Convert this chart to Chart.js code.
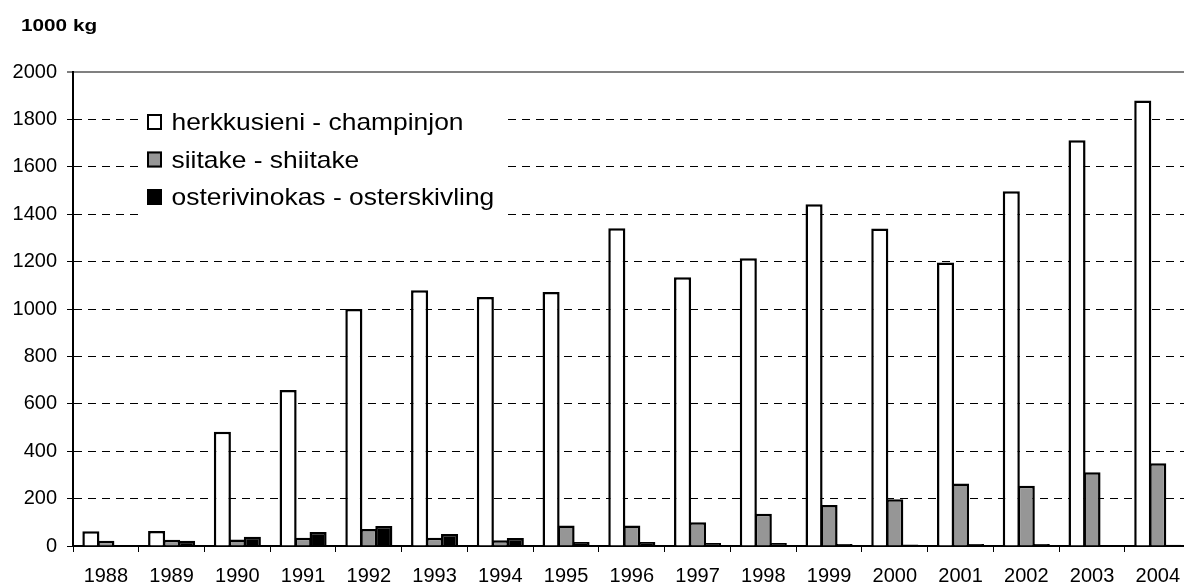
<!DOCTYPE html>
<html>
<head>
<meta charset="utf-8">
<script src="https://cdn.jsdelivr.net/npm/chart.js@4/dist/chart.umd.min.js"></script>
<style>
  html, body { margin: 0; padding: 0; background: #fff; overflow: hidden; }
  #wrap { position: relative; width: 1192px; height: 585px; }
</style>
</head>
<body>
<div id="wrap"><canvas id="c"></canvas></div>
<script>
const years = ['1988','1989','1990','1991','1992','1993','1994','1995','1996','1997','1998','1999','2000','2001','2002','2003','2004'];
const champinjon = [62, 63, 482, 658, 1000, 1079, 1051, 1072, 1341, 1134, 1214, 1442, 1340, 1196, 1497, 1712, 1880];
const shiitake = [22, 26, 27, 35, 72, 35, 24, 87, 87, 100, 136, 173, 197, 264, 254, 311, 349];
const osterskivling = [4, 22, 39, 59, 84, 51, 34, 17, 17, 13, 13, 8, 6, 8, 8, 2, 5];
const seriesNames = ['herkkusieni - champinjon', 'siitake - shiitake', 'osterivinokas - osterskivling'];
const unitLabel = '1000 kg';
const yMin = 0, yMax = 2000, yStep = 200;

const FONT = '"Liberation Sans", Arial, sans-serif';

const overlayPlugin = {
  id: 'overlay',
  afterDraw(chart) {
    const ctx = chart.ctx;
    // unit title
    ctx.save();
    ctx.fillStyle = '#000';
    ctx.font = 'bold 17px ' + FONT;
    ctx.textBaseline = 'alphabetic';
    ctx.translate(21, 31);
    ctx.scale(1.22, 1);
    ctx.fillText(unitLabel, 0, 0);
    ctx.restore();

    // legend
    ctx.save();
    ctx.fillStyle = '#fff';
    ctx.fillRect(138, 104, 367, 118);
    const centers = [122, 159.5, 197];
    chart.data.datasets.forEach((ds, i) => {
      const cy = centers[i];
      ctx.fillStyle = ds.backgroundColor;
      ctx.fillRect(147, cy - 8, 15, 16);
      ctx.strokeStyle = '#000';
      ctx.lineWidth = 2;
      ctx.strokeRect(148, cy - 7, 13, 14);
      ctx.save();
      ctx.fillStyle = '#000';
      ctx.font = '24px ' + FONT;
      ctx.textBaseline = 'alphabetic';
      ctx.translate(171.5, cy + 8);
      ctx.scale(1.1, 1);
      ctx.fillText(ds.label, 0, 0);
      ctx.restore();
    });
    ctx.restore();
  }
};

new Chart(document.getElementById('c'), {
  type: 'bar',
  data: {
    labels: years,
    datasets: [
      { label: seriesNames[0], data: champinjon, backgroundColor: '#ffffff' },
      { label: seriesNames[1], data: shiitake, backgroundColor: '#969696' },
      { label: seriesNames[2], data: osterskivling, backgroundColor: '#000000' }
    ].map(d => Object.assign(d, {
      borderColor: '#000',
      borderWidth: 2.5,
      inflateAmount: 0,
      categoryPercentage: 0.684,
      barPercentage: 1.14
    }))
  },
  options: {
    responsive: true,
    maintainAspectRatio: false,
    animation: false,
    devicePixelRatio: 1,
    layout: { padding: { top: 72, left: 0, right: 0, bottom: 0 } },
    plugins: { legend: { display: false }, tooltip: { enabled: false } },
    scales: {
      x: {
        offset: true,
        grid: {
          display: true,
          drawOnChartArea: false,
          drawTicks: true,
          tickLength: 6,
          tickColor: '#000',
          tickWidth: 1,
          offset: true
        },
        border: { display: true, color: '#000', width: 2 },
        ticks: { color: '#000', font: { family: FONT, size: 20 }, padding: 12, maxRotation: 0, autoSkip: false },
        afterFit(s) { s.height = 39; }
      },
      y: {
        min: yMin,
        max: yMax,
        grid: {
          color: c => (c.tick && c.tick.value === yMax) ? '#808080' : '#000',
          lineWidth: c => (c.tick && c.tick.value === yMax) ? 2 : 1,
          tickLength: 6,
          tickColor: '#000',
          tickWidth: 1
        },
        border: {
          display: true,
          color: '#000',
          width: 2,
          dash: c => (c.tick && c.tick.value === yMax) ? [] : [8, 6]
        },
        ticks: {
          stepSize: yStep,
          color: '#000',
          font: { family: FONT, size: 20 },
          padding: 10,
          callback: v => String(v)
        },
        afterFit(s) { s.width = 73; }
      }
    }
  },
  plugins: [overlayPlugin]
});
</script>
</body>
</html>
